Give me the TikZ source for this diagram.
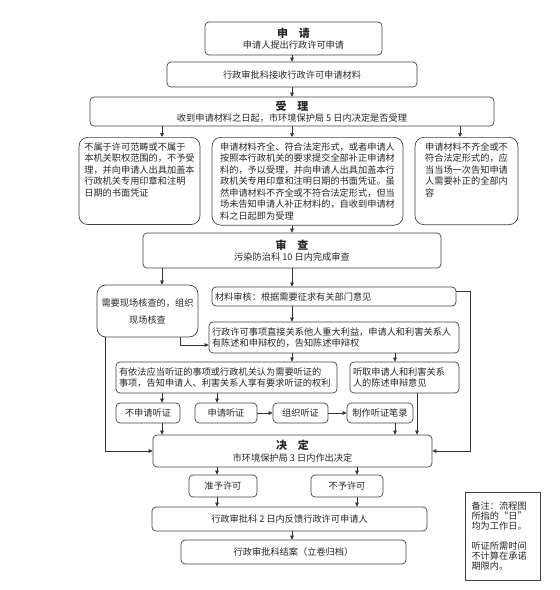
\documentclass[tikz,border=0pt]{standalone}
\usepackage{fontspec}
\setmainfont{Noto Sans CJK SC}
\usepackage{tikz}
\usetikzlibrary{arrows.meta, positioning}

\begin{document}
\begin{tikzpicture}[
    x=1pt, y=-1pt,
    block/.style={draw=black!75, rounded corners=4pt, line width=0.7pt, inner sep=3pt, align=center, text=black!85, font=\fontsize{9.2}{11.5}\selectfont},
    tallblock/.style={block, rounded corners=9pt, align=left, anchor=north, inner ysep=5pt, text depth=#1},
    noteblock/.style={draw=black!75, line width=0.7pt, align=left, text=black!85, font=\fontsize{9.2}{10}\selectfont},
    arrow/.style={-{Triangle[length=4pt, width=3.6pt]}, line width=0.6pt, draw=black!80}
]
    \useasboundingbox (0,0) rectangle (560,590);

    \coordinate (cA) at (162,0);
    \coordinate (cB) at (217,0);
    \coordinate (cC) at (357,0);
    \coordinate (cD) at (395,0);
    \coordinate (cE) at (417,0);
    \coordinate (cF) at (180,0);
    \coordinate (cG) at (105,0);
    \coordinate (cH) at (470,0);
    \coordinate (cM) at (292,0);
    \coordinate (cR) at (460,0);

    \node[block, minimum width=177pt, minimum height=33pt] (apply) at (293.5,38.5) {\textbf{\fontsize{11}{13}\selectfont 申\quad 请}\\申请人提出行政许可申请};
    \node[block, minimum width=250pt, minimum height=25pt] (receive) at (292,74.5) {行政审批科接收行政许可申请材料};
    \node[block, minimum width=404pt, minimum height=29pt] (accept) at (292,111.5) {\textbf{\fontsize{11}{13}\selectfont 受\quad 理}\\收到申请材料之日起，市环境保护局 5 日内决定是否受理};

    \node[tallblock=23.5pt, minimum width=121pt] (reject) at (139.5,137) {不属于许可范畴或不属于\\本机关职权范围的，不予受\\理，并向申请人出具加盖本\\行政机关专用印章和注明\\日期的书面凭证};
    \node[tallblock=1pt, minimum width=191pt] (accepted) at (307.5,137) {申请材料齐全、符合法定形式，或者申请人\\按照本行政机关的要求提交全部补正申请材\\料的，予以受理，并向申请人出具加盖本行\\政机关专用印章和注明日期的书面凭证。虽\\然申请材料不齐全或不符合法定形式，但当\\场未告知申请人补正材料的，自收到申请材\\料之日起即为受理};
    \node[tallblock=23.5pt, minimum width=103pt] (supplement) at (466.5,137) {申请材料不齐全或不\\符合法定形式的，应\\当当场一次告知申请\\人需要补正的全部内\\容};

    \node[block, minimum width=298pt, minimum height=35pt] (review) at (292,250.5) {\textbf{\fontsize{11}{13}\selectfont 审\quad 查}\\污染防治科 10 日内完成审查};
    \node[block, rounded corners=9pt, minimum width=101pt, minimum height=52pt, font=\fontsize{9.2}{17}\selectfont] (onsite) at (147.5,311) {需要现场核查的，组织\\现场核查};
    \node[block, align=left, text width=238pt, minimum height=19pt] (material) at (334,296.5) {材料审核：根据需要征求有关部门意见};
    \node[block, align=left, text width=244pt, minimum height=31pt] (defend) at (334,337.5) {行政许可事项直接关系他人重大利益，申请人和利害关系人\\有陈述和申辩权的，告知陈述申辩权};
    \node[block, align=left, text width=215pt, minimum height=31pt] (hearing) at (226.5,377.5) {有依法应当听证的事项或行政机关认为需要听证的\\事项，告知申请人、利害关系人享有要求听证的权利};
    \node[block, align=left, text width=103pt, minimum height=31pt] (listen) at (404.5,377.5) {听取申请人和利害关系\\人的陈述申辩意见};

    \node[block, minimum width=64pt, minimum height=20pt] (nohear) at (148,413) {不申请听证};
    \node[block, minimum width=62pt, minimum height=20pt] (reqhear) at (226,413) {申请听证};
    \node[block, minimum width=55pt, minimum height=20pt] (orghear) at (300.5,413) {组织听证};
    \node[block, minimum width=66pt, minimum height=20pt] (record) at (380,413) {制作听证笔录};

    \node[block, minimum width=279pt, minimum height=32pt] (decide) at (292.5,451) {\textbf{\fontsize{11}{13}\selectfont 决\quad 定}\\市环境保护局 3 日内作出决定};
    \node[block, minimum width=68pt, minimum height=22pt] (grant) at (223,486) {准予许可};
    \node[block, minimum width=72pt, minimum height=22pt] (deny) at (347,486) {不予许可};
    \node[block, minimum width=275pt, minimum height=24pt] (feedback) at (289.5,519) {行政审批科 2 日内反馈行政许可申请人};
    \node[block, minimum width=225pt, minimum height=24pt] (close) at (293.5,552) {行政审批科结案（立卷归档）};

    \node[noteblock, text width=62pt, minimum width=75pt, minimum height=88pt] (note) at (502.5,536) {备注：流程图\\所指的“日”\\均为工作日。\\[10pt]听证所需时间\\不计算在承诺\\期限内。};

    \draw[arrow] (apply.south -| cM) -- (receive.north -| cM);
    \draw[arrow] (receive.south -| cM) -- (accept.north -| cM);
    \draw[arrow] (accept.south -| cA) -- (reject.north -| cA);
    \draw[arrow] (accept.south -| cM) -- (accepted.north -| cM);
    \draw[arrow] (accept.south -| cR) -- (supplement.north -| cR);
    \draw[arrow] (accepted.south -| cM) -- (review.north -| cM);
    \draw[arrow] (review.south -| cA) -- (onsite.north -| cA);
    \draw[arrow] (review.south -| cM) -- (material.north -| cM);
    \draw[arrow] (material.south -| cM) -- (defend.north -| cM);
    \draw[arrow] (onsite.south -| cF) |- ([yshift=-7.5pt]defend.west);
    \draw[arrow] (onsite.south -| cG) |- (decide.west);
    \draw[arrow] ([yshift=5pt]material.east) -| (decide.east -| cH) -- (decide.east);
    \draw[arrow] (defend.south -| cM) -- (hearing.north -| cM);
    \draw[arrow] (defend.south -| cD) -- (listen.north -| cD);
    \draw[arrow] (hearing.south -| cA) -- (nohear.north -| cA);
    \draw[arrow] (hearing.south -| cB) -- (reqhear.north -| cB);
    \draw[arrow] (reqhear) -- (orghear);
    \draw[arrow] (orghear) -- (record);
    \draw[arrow] (nohear.south -| cA) -- (decide.north -| cA);
    \draw[arrow] (record.south -| cD) -- (decide.north -| cD);
    \draw[arrow] (listen.south -| cE) -- (decide.north -| cE);
    \draw[arrow] (decide.south -| cB) -- (grant.north -| cB);
    \draw[arrow] (decide.south -| cC) -- (deny.north -| cC);
    \draw[arrow] (grant.south -| cB) -- (feedback.north -| cB);
    \draw[arrow] (deny.south -| cC) -- (feedback.north -| cC);
    \draw[arrow] (feedback.south -| cM) -- (close.north -| cM);
\end{tikzpicture}
\end{document}
